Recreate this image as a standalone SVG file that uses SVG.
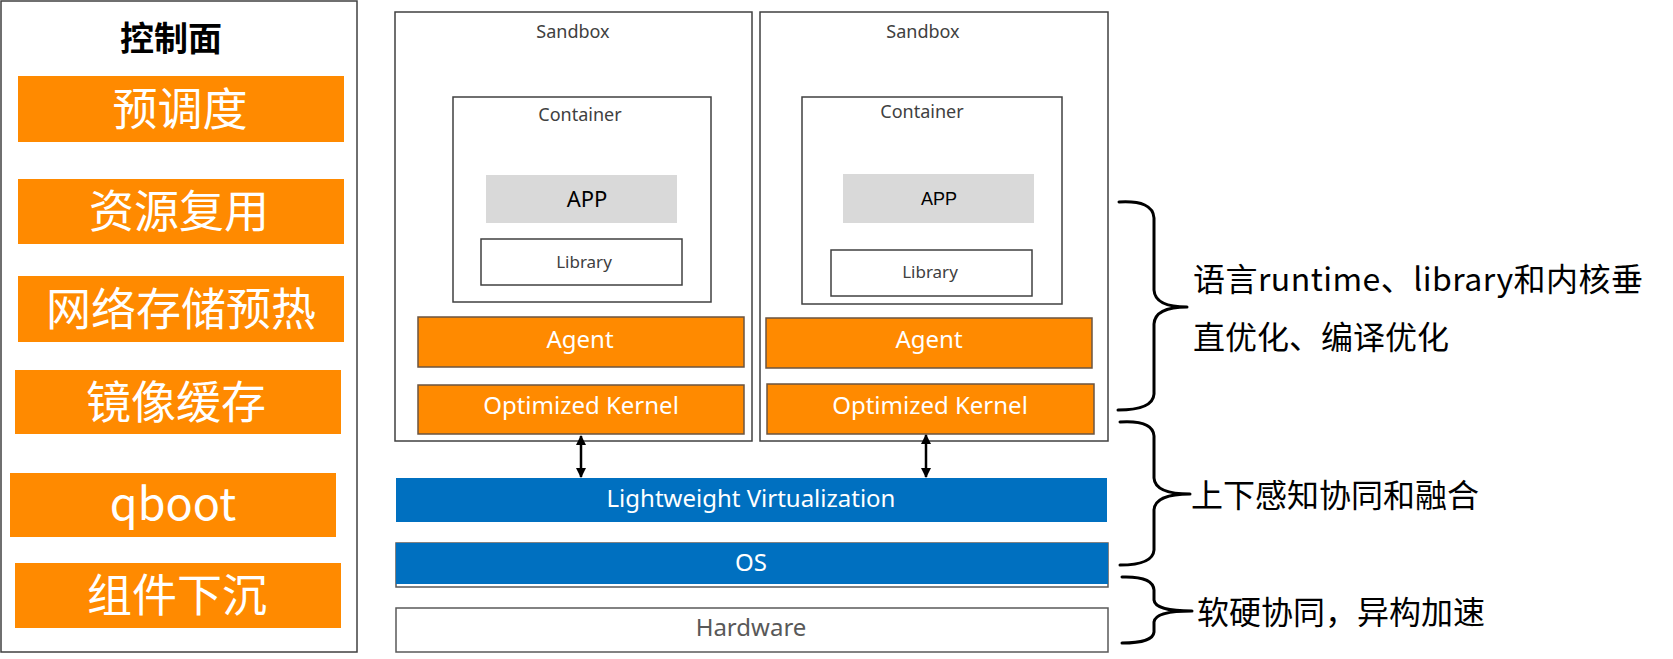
<svg xmlns="http://www.w3.org/2000/svg" width="1673" height="659" viewBox="0 0 1673 659">
<defs>
<style>
.frame{fill:#fff;stroke:#404040;stroke-width:1.5}
.orange{fill:#FF8A00}
.ob{fill:#FF8A00;stroke:#6b5440;stroke-width:1.5}
.blue{fill:#0070C0}
.cp{font-family:"Noto Sans CJK SC","Noto Sans",sans-serif;fill:#fff;font-size:45px;text-anchor:middle}
.lbl{font-family:"Noto Sans","Noto Sans CJK SC",sans-serif;fill:#404040;text-anchor:middle}
.wt{font-family:"Noto Sans","Noto Sans CJK SC",sans-serif;fill:#fff;font-size:24px;text-anchor:middle}
.note{font-family:"Noto Sans CJK SC","Noto Sans",sans-serif;fill:#000;font-size:32px}
.brace{fill:none;stroke:#000;stroke-width:3;stroke-linecap:round;stroke-linejoin:round}
.arr{stroke:#000;stroke-width:2.5;fill:none}
</style>
<marker id="ah" viewBox="0 0 10 10" refX="9" refY="5" markerWidth="4" markerHeight="4" orient="auto-start-reverse">
<path d="M0,0 L10,5 L0,10 z" fill="#000"/>
</marker>
</defs>
<rect width="1673" height="659" fill="#fff"/>

<g id="control-plane">
<rect class="frame" x="1" y="1" width="356" height="651"/>
<text x="171" y="51" font-family="Noto Sans CJK SC, sans-serif" font-size="34" font-weight="700" text-anchor="middle" fill="#000">控制面</text>
</g>
<g id="pre-schedule"><rect class="orange" x="18" y="76" width="326" height="66"/><text class="cp" x="180" y="126">预调度</text></g>
<g id="resource-reuse"><rect class="orange" x="18" y="179" width="326" height="65"/><text class="cp" x="179" y="228">资源复用</text></g>
<g id="net-storage-warmup"><rect class="orange" x="18" y="276" width="326" height="66"/><text class="cp" x="181" y="326">网络存储预热</text></g>
<g id="image-cache"><rect class="orange" x="15" y="370" width="326" height="64"/><text class="cp" x="176" y="419">镜像缓存</text></g>
<g id="qboot"><rect class="orange" x="10" y="473" width="326" height="64"/><text class="cp" x="173" y="520" font-size="46">qboot</text></g>
<g id="component-sink"><rect class="orange" x="15" y="563" width="326" height="65"/><text class="cp" x="177" y="612">组件下沉</text></g>

<g id="sandbox1">
<rect class="frame" x="395" y="12" width="357" height="429"/>
<text class="lbl" x="573" y="38" font-size="18">Sandbox</text>
</g>
<g id="container1">
<rect class="frame" x="453" y="97" width="258" height="205"/>
<text class="lbl" x="580" y="121" font-size="18">Container</text>
</g>
<g id="app1"><rect x="486" y="175" width="191" height="48" fill="#D9D9D9"/><text x="587" y="207" font-family="Noto Sans, sans-serif" font-size="22" text-anchor="middle" fill="#000">APP</text></g>
<g id="library1"><rect class="frame" x="481" y="239" width="201" height="46"/><text class="lbl" x="584" y="268" font-size="17">Library</text></g>
<g id="agent1"><rect class="ob" x="418" y="317" width="326" height="50"/><text class="wt" x="580" y="348">Agent</text></g>
<g id="kernel1"><rect class="ob" x="418" y="385" width="326" height="49"/><text class="wt" x="581" y="414">Optimized Kernel</text></g>

<g id="sandbox2">
<rect class="frame" x="760" y="12" width="348" height="429"/>
<text class="lbl" x="923" y="38" font-size="18">Sandbox</text>
</g>
<g id="container2">
<rect class="frame" x="802" y="97" width="260" height="207"/>
<text class="lbl" x="922" y="118" font-size="18">Container</text>
</g>
<g id="app2"><rect x="843" y="174" width="191" height="49" fill="#D9D9D9"/><text x="939" y="205" font-family="Liberation Sans, Arial, sans-serif" font-size="18" text-anchor="middle" fill="#000">APP</text></g>
<g id="library2"><rect class="frame" x="831" y="250" width="201" height="46"/><text class="lbl" x="930" y="278" font-size="17">Library</text></g>
<g id="agent2"><rect class="ob" x="766" y="318" width="326" height="50"/><text class="wt" x="929" y="348">Agent</text></g>
<g id="kernel2"><rect class="ob" x="767" y="384" width="327" height="50"/><text class="wt" x="930" y="414">Optimized Kernel</text></g>

<g id="lightweight-virtualization"><rect class="blue" x="396" y="478" width="711" height="44"/><text class="wt" x="751" y="507">Lightweight Virtualization</text></g>
<g id="os"><rect x="396" y="543" width="712" height="44" fill="#fff" stroke="#595959" stroke-width="1.5"/><rect class="blue" x="396" y="543" width="712" height="41"/><text class="wt" x="751" y="571" font-size="23">OS</text></g>
<g id="hardware"><rect x="396" y="608" width="712" height="44" fill="#fff" stroke="#595959" stroke-width="1.5"/><text x="751" y="636" font-family="Noto Sans, sans-serif" font-size="24" text-anchor="middle" fill="#595959">Hardware</text></g>

<g id="connectors">
<line class="arr" x1="581" y1="436" x2="581" y2="477" marker-start="url(#ah)" marker-end="url(#ah)"/>
<line class="arr" x1="926" y1="435" x2="926" y2="477" marker-start="url(#ah)" marker-end="url(#ah)"/>
<path class="brace" d="M1119,202 Q1153,200 1154,218 L1154,290 Q1155,307 1187,307 Q1155,307 1154,324 L1154,394 Q1153,410 1118,410"/>
<path class="brace" d="M1120,422 Q1153,420 1154,436 L1154,478 Q1155,494 1190,494 Q1155,494 1154,510 L1154,550 Q1153,565 1120,565"/>
<path class="brace" d="M1122,577 Q1153,576 1154,590 L1154,600 Q1155,611 1192,611 Q1155,611 1154,622 L1154,632 Q1153,643 1122,643"/>
</g>

<g id="notes">
<text class="note" x="1193" y="291" textLength="450" lengthAdjust="spacing">语言runtime、library和内核垂</text>
<text class="note" x="1193" y="349">直优化、编译优化</text>
<text class="note" x="1191" y="507">上下感知协同和融合</text>
<text class="note" x="1197" y="624">软硬协同，异构加速</text>
</g>
</svg>
